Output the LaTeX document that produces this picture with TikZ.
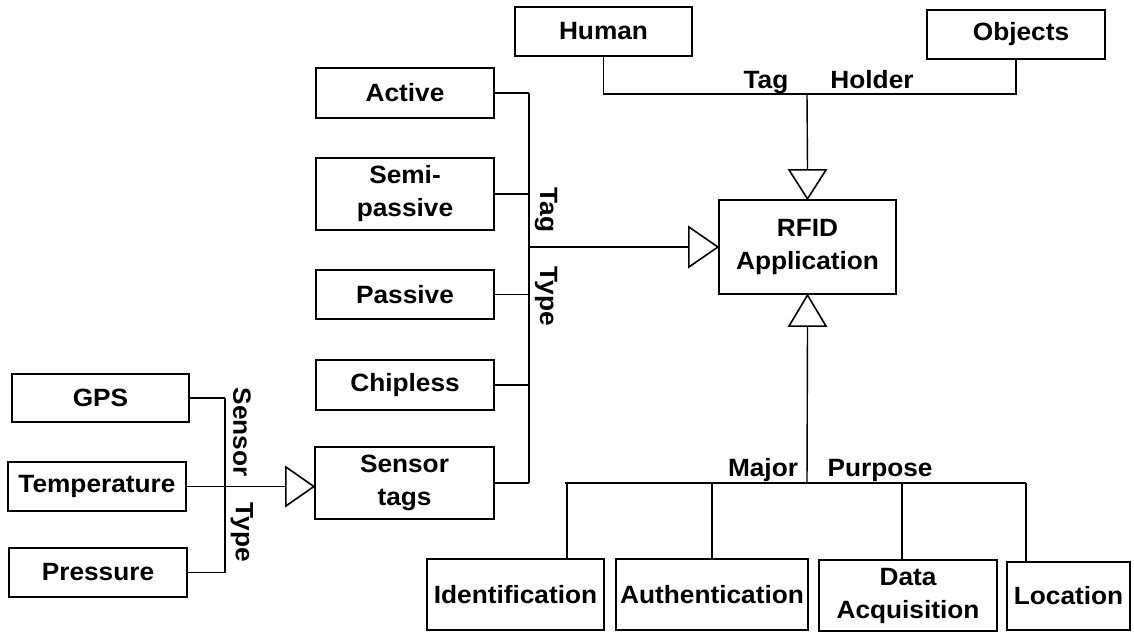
\documentclass[tikz,border=0pt]{standalone}
\usepackage{fontspec}
\setmainfont{Liberation Sans}[FakeStretch=1.05]
\begin{document}
\begin{tikzpicture}[x=1pt,y=-1pt,
  box/.style={draw, line width=2.2pt, rectangle, inner sep=0pt, align=center,
    font=\bfseries\fontsize{25}{33}\selectfont},
  conn/.style={line width=1.4pt},
  lbl/.style={font=\bfseries\fontsize{25}{28}\selectfont, inner sep=0pt},
  tri/.style={draw, line width=1.6pt, fill=white, line join=miter}]
\useasboundingbox (0,0) rectangle (1134,632);
% boxes
\node[box, minimum width=177pt, minimum height=49pt] (human) at (603.5,31.5) {Human};
\node[box, minimum width=178pt, minimum height=49pt] (objects) at (1016,34.5) {\hspace*{10pt}Objects};
\node[box, minimum width=177pt, minimum height=94pt] (rfid) at (807.5,247) {RFID\\Application};
\node[box, minimum width=178pt, minimum height=50pt] (active) at (405,93) {Active};
\node[box, minimum width=178pt, minimum height=72pt] (semi) at (405,194) {Semi-\\passive};
\node[box, minimum width=178pt, minimum height=49pt] (passive) at (405,294.5) {Passive};
\node[box, minimum width=178pt, minimum height=50pt] (chipless) at (405,385) {Chipless};
\node[box, minimum width=179pt, minimum height=72pt] (sensor) at (404.5,483) {Sensor\\tags};
\node[box, minimum width=177pt, minimum height=48pt] (gps) at (100.5,398) {GPS};
\node[box, minimum width=178pt, minimum height=49pt] (temp) at (97,486.5) {Temperature};
\node[box, minimum width=178pt, minimum height=49pt] (pressure) at (98,572.5) {Pressure};
\node[box, minimum width=177pt, minimum height=71pt] (ident) at (515.5,594.5) {Identification};
\node[box, minimum width=192pt, minimum height=71pt] (auth) at (712,594.5) {Authentication};
\node[box, minimum width=178pt, minimum height=71pt] (data) at (908,595.5) {Data\\Acquisition};
\node[box, minimum width=123pt, minimum height=68pt] (loc) at (1068.5,596) {Location};
% labels
\node[lbl, anchor=base] (lth1) at (766,88) {Tag};
\node[lbl, anchor=base] (lth2) at (872,88) {Holder};
\node[lbl, rotate=-90] (ltt1) at (546,210) {Tag};
\node[lbl, rotate=-90] (ltt2) at (546,296) {Type};
\node[lbl, rotate=-90] (lst1) at (242,432) {Sensor};
\node[lbl, rotate=-90] (lst2) at (242,532) {Type};
\node[lbl, anchor=base] (lmp1) at (763,476) {Major};
\node[lbl, anchor=base] (lmp2) at (880,476) {Purpose};
% coordinates
\coordinate (thj) at (807,94);
\coordinate (busx) at (529,0);
\coordinate (busj) at (529,247);
\coordinate (sbusx) at (225,0);
\coordinate (mpj) at (807,483);
\coordinate (mpl) at (565,483);
\coordinate (mpr) at (1026,483);
\coordinate (dI) at (567,483);
\coordinate (dA) at (712,483);
\coordinate (dD) at (902,483);
\coordinate (dL) at (1026,483);
% tag holder
\draw[conn] (human.south) |- (thj) -| (objects.south);
\draw[conn] (thj) -- ([yshift=29pt]rfid.north);
\draw[tri] (rfid.north) -- ++(-18.5,-29) -- ++(37,0) -- cycle;
% tag type
\draw[conn] (active.east) -- (active.east -| busx);
\draw[conn] (semi.east) -- (semi.east -| busx);
\draw[conn] (passive.east) -- (passive.east -| busx);
\draw[conn] (chipless.east) -- (chipless.east -| busx);
\draw[conn] (sensor.east) -- (sensor.east -| busx);
\draw[conn] (active.east -| busx) -- (sensor.east -| busx);
\draw[conn] (busj) -- ([xshift=-29pt]rfid.west);
\draw[tri] (rfid.west) -- ++(-29,-20) -- ++(0,40) -- cycle;
% sensor type
\draw[conn] (gps.east) -- (gps.east -| sbusx);
\draw[conn] (pressure.east) -- (pressure.east -| sbusx);
\draw[conn] (gps.east -| sbusx) -- (pressure.east -| sbusx);
\draw[conn] (temp.east) -- ([xshift=-28pt]sensor.west |- temp.east);
\draw[tri] (sensor.west |- temp.east) -- ++(-28,-19.5) -- ++(0,39) -- cycle;
% major purpose
\draw[conn] ([yshift=-31pt]rfid.south) -- (mpj);
\draw[tri] (rfid.south) -- ++(-18.5,31) -- ++(37,0) -- cycle;
\draw[conn] (mpl) -- (mpr);
\draw[conn] (dI) -- (dI |- ident.north);
\draw[conn] (dA) -- (dA |- auth.north);
\draw[conn] (dD) -- (dD |- data.north);
\draw[conn] (dL) -- (dL |- loc.north);
\end{tikzpicture}
\end{document}
